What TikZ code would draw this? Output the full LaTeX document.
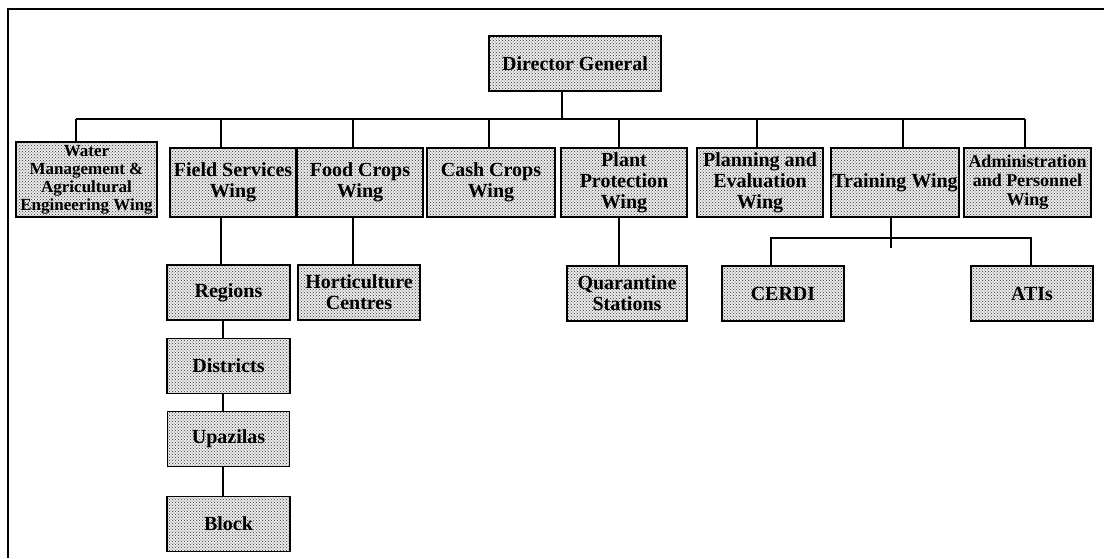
\documentclass[tikz,border=0pt]{standalone}
\usepackage{fontspec}
\setmainfont{Liberation Serif}
\usetikzlibrary{positioning, patterns}
\newcommand{\wingfont}{\fontsize{20}{21}\selectfont\bfseries}

\begin{document}
\begin{tikzpicture}[
    x=1pt, y=-1pt,
    unit/.style={rectangle, draw, line width=1.1pt, preaction={fill=black!8},
                 pattern=crosshatch dots, pattern color=black!80,
                 inner sep=0pt, align=center, font=\wingfont},
    wing/.style={unit, minimum width=126pt, minimum height=69pt},
    sub/.style={unit, minimum width=122pt, minimum height=55pt},
    link/.style={line width=1.1pt},
  ]
  \useasboundingbox (0,0) rectangle (1104,558);
  % frame
  \draw[line width=1.6pt] (1104,9) -- (8,9) -- (8,558);

  \node[unit, minimum width=172pt, minimum height=55pt] (dg) at (575,63.5) {Director General};

  % wings
  \node[wing, minimum width=141pt, minimum height=75pt,
        font=\fontsize{17}{18}\selectfont\bfseries] (water) at (86.5,179.5)
        {Water\\Management \&\\Agricultural\\Engineering Wing};
  \node[wing] (field) at (233,182.5) {Field Services\\Wing};
  \node[wing] (food) at (360,182.5) {Food Crops\\Wing};
  \node[wing, minimum width=128pt] (cash) at (491,182.5) {Cash Crops\\Wing};
  \node[wing] (plant) at (624,182.5) {Plant\\Protection\\Wing};
  \node[wing] (plan) at (760,182.5) {Planning and\\Evaluation\\Wing};
  \node[wing, minimum width=128pt] (train) at (895,182.5) {Training Wing};
  \node[wing, minimum width=127pt, font=\fontsize{18}{19}\selectfont\bfseries] (admin)
        at (1027.5,182.5) {Administration\\and Personnel\\Wing};

  % lower levels
  \node[sub, minimum width=123pt] (regions) at (228.5,292.5) {Regions};
  \node[sub, minimum width=123pt, below=17pt of regions] (districts) {Districts};
  \node[sub, below=17pt of districts] (upazilas) {Upazilas};
  \node[sub, minimum width=123pt, below=29pt of upazilas] (block) {Block};
  \node[sub] (hort) at (359,292.5) {Horticulture\\Centres};
  \node[sub, minimum width=120pt] (quar) at (627,293.5) {Quarantine\\Stations};
  \node[sub] (cerdi) at (783,293.5) {CERDI};
  \node[sub] (atis) at (1032,293.5) {ATIs};

  % connectors
  \coordinate (bus) at (562,119);
  \coordinate (tbus) at (891,238);
  \coordinate (tick) at (891,248);
  \draw[link] ([xshift=-13pt]dg.south) -- ([xshift=-13pt]dg.south |- bus);
  \draw[link] ([xshift=-10.5pt]water.north |- bus) -- ([xshift=-2.5pt]admin.north |- bus);
  \foreach \n/\s in {water/-10.5, field/-12, food/-7, cash/-2, plant/-5, plan/-3, train/8, admin/-2.5}
    \draw[link] ([xshift=\s pt]\n.north) -- ([xshift=\s pt]\n.north |- bus);
  \draw[link] ([xshift=-12pt]field.south) -- ([xshift=-12pt]field.south |- regions.north);
  \foreach \a/\b in {regions/districts, districts/upazilas, upazilas/block}
    \draw[link] ([xshift=-5.5pt]\a.south) -- ([xshift=-5.5pt]\a.south |- \b.north);
  \draw[link] ([xshift=-7pt]food.south) -- ([xshift=-7pt]food.south |- hort.north);
  \draw[link] ([xshift=-5pt]plant.south) -- ([xshift=-5pt]plant.south |- quar.north);
  \draw[link] ([xshift=-4pt]train.south) -- (tick);
  \draw[link] ([xshift=-12pt]cerdi.north) |- (tbus) -| ([xshift=-1pt]atis.north);
\end{tikzpicture}
\end{document}
